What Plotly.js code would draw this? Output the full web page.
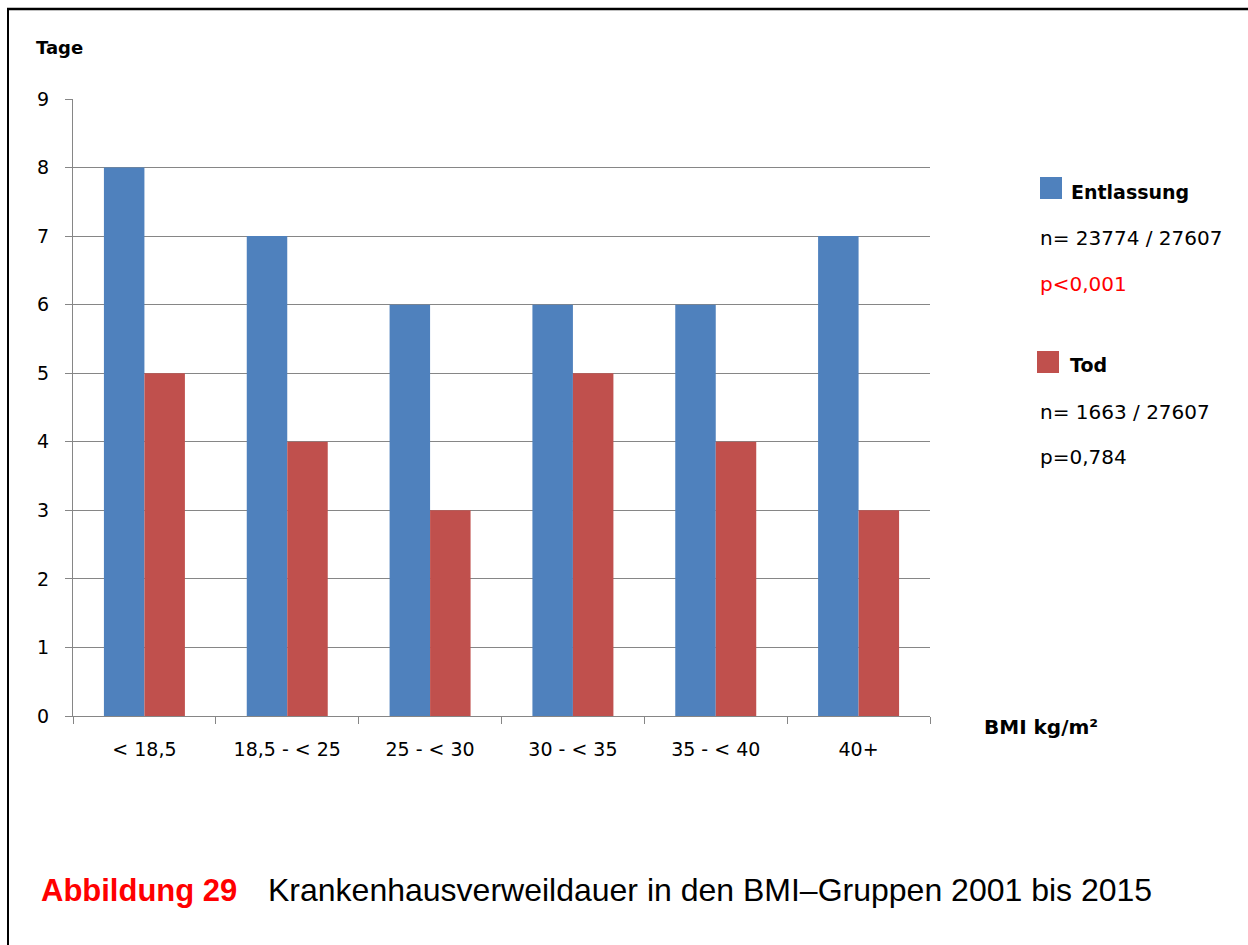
<!DOCTYPE html>
<html>
<head>
<meta charset="utf-8">
<script src="https://cdn.plot.ly/plotly-3.0.1.min.js"></script>
<style>
html,body{margin:0;padding:0;background:#fff;}
#chart{width:1248px;height:945px;}
</style>
</head>
<body>
<div id="chart"></div>
<script>
const categories = ["< 18,5", "18,5 - < 25", "25 - < 30", "30 - < 35", "35 - < 40", "40+"];
const entlassung = [8, 7, 6, 6, 6, 7];
const tod = [5, 4, 3, 5, 4, 3];
const seriesNames = ["Entlassung", "Tod"];
const seriesColors = ["#4F81BD", "#C0504D"];
const legendInfo = [["n= 23774 / 27607", "p<0,001"], ["n= 1663 / 27607", "p=0,784"]];
const yTitle = "Tage";
const xTitle = "BMI kg/m²";
const captionLabel = "Abbildung 29";
const captionText = "Krankenhausverweildauer in den BMI–Gruppen 2001 bis 2015";

const L = 73, R = 930, T = 99, B = 716;
const W = 1248, H = 945;
const px = x => (x - L) / (R - L);
const py = y => (B - y) / (B - T);
const FONT = "'DejaVu Sans', sans-serif";
const ARIAL = "'Liberation Sans', Arial, sans-serif";

const traces = [
  {type: "bar", x: categories, y: entlassung, name: seriesNames[0], marker: {color: seriesColors[0]}},
  {type: "bar", x: categories, y: tod, name: seriesNames[1], marker: {color: seriesColors[1]}}
];

const annotations = [
  {text: "<b>" + yTitle + "</b>", x: px(34), y: py(48), xanchor: "left", yanchor: "middle", font: {size: 18, color: "#000", family: FONT}},
  {text: "<b>" + xTitle + "</b>", x: px(982), y: py(727), xanchor: "left", yanchor: "middle", font: {size: 20, color: "#000", family: FONT}},
  {text: "<b>" + seriesNames[0] + "</b>", x: px(1069), y: py(192), xanchor: "left", yanchor: "middle", font: {size: 19, color: "#000", family: FONT}},
  {text: legendInfo[0][0], x: px(1038), y: py(238), xanchor: "left", yanchor: "middle", font: {size: 20, color: "#000", family: FONT}},
  {text: legendInfo[0][1], x: px(1038), y: py(284), xanchor: "left", yanchor: "middle", font: {size: 20, color: "#FF0000", family: FONT}},
  {text: "<b>" + seriesNames[1] + "</b>", x: px(1068), y: py(365), xanchor: "left", yanchor: "middle", font: {size: 19, color: "#000", family: FONT}},
  {text: legendInfo[1][0], x: px(1038), y: py(412), xanchor: "left", yanchor: "middle", font: {size: 20, color: "#000", family: FONT}},
  {text: legendInfo[1][1], x: px(1038), y: py(457), xanchor: "left", yanchor: "middle", font: {size: 20, color: "#000", family: FONT}},
  {text: "<b>" + captionLabel + "</b>", x: px(39), y: py(890), xanchor: "left", yanchor: "middle", font: {size: 31, color: "#FF0000", family: ARIAL}},
  {text: captionText, x: px(266), y: py(890), xanchor: "left", yanchor: "middle", font: {size: 32, color: "#000", family: ARIAL}}
].map(a => Object.assign({xref: "paper", yref: "paper", showarrow: false}, a));

const shapes = [
  {type: "rect", x0: px(1040), x1: px(1062), y0: py(177), y1: py(199), fillcolor: seriesColors[0], line: {width: 0}},
  {type: "rect", x0: px(1037), x1: px(1059), y0: py(351), y1: py(373), fillcolor: seriesColors[1], line: {width: 0}},
  {type: "line", x0: px(7), x1: px(W + 5), y0: py(9), y1: py(9), line: {color: "#000", width: 2.5}},
  {type: "line", x0: px(8), x1: px(8), y0: py(8), y1: py(H + 5), line: {color: "#000", width: 2}}
].map(s => Object.assign({xref: "paper", yref: "paper", layer: "above"}, s));

const layout = {
  width: W, height: H,
  margin: {l: L, r: W - R, t: T, b: H - B, pad: 0},
  paper_bgcolor: "#fff", plot_bgcolor: "#fff",
  showlegend: false,
  barmode: "group",
  bargap: 0.433, bargroupgap: 0,
  font: {family: FONT, size: 19, color: "#000"},
  xaxis: {
    type: "category", tickson: "boundaries",
    showgrid: false, showline: true, linecolor: "#868686", linewidth: 1,
    ticks: "outside", ticklen: 7, tickcolor: "#868686", tickwidth: 1,
    ticklabelstandoff: 16,
    tickfont: {size: 19, family: FONT, color: "#000"},
    fixedrange: true
  },
  yaxis: {
    range: [0, 9], dtick: 1, tick0: 0,
    showgrid: true, gridcolor: "#868686", gridwidth: 1,
    showline: true, linecolor: "#868686", linewidth: 1,
    ticks: "outside", ticklen: 7, tickcolor: "#868686", tickwidth: 1,
    ticklabelstandoff: 12,
    zeroline: false,
    tickfont: {size: 19, family: FONT, color: "#000"},
    fixedrange: true
  },
  annotations: annotations,
  shapes: shapes
};

Plotly.newPlot("chart", traces, layout, {displayModeBar: false, staticPlot: true});
</script>
</body>
</html>
